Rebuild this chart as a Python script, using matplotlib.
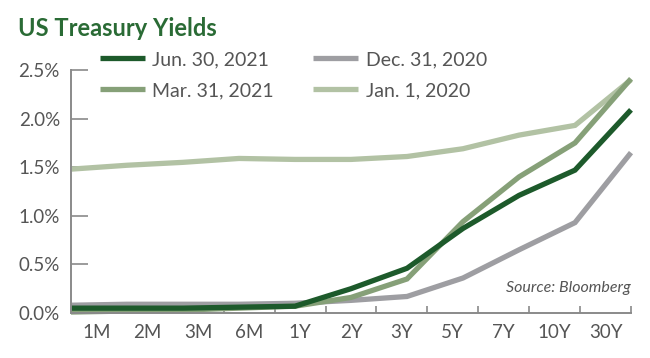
import matplotlib
matplotlib.use("Agg")
import matplotlib.pyplot as plt
import numpy as np
from matplotlib import font_manager

# maturities on the x axis
maturities = ["1M", "2M", "3M", "6M", "1Y", "2Y", "3Y", "5Y", "7Y", "10Y", "30Y"]

# yields in percent
jun_2021 = [0.05, 0.05, 0.05, 0.06, 0.07, 0.25, 0.46, 0.87, 1.21, 1.47, 2.09]
mar_2021 = [0.01, 0.02, 0.03, 0.05, 0.07, 0.16, 0.35, 0.94, 1.40, 1.75, 2.41]
dec_2020 = [0.08, 0.09, 0.09, 0.09, 0.10, 0.13, 0.17, 0.36, 0.65, 0.93, 1.65]
jan_2020 = [1.48, 1.52, 1.55, 1.59, 1.58, 1.58, 1.61, 1.69, 1.83, 1.93, 2.40]

series_labels = ["Jun. 30, 2021", "Mar. 31, 2021", "Dec. 31, 2020", "Jan. 1, 2020"]
series_colors = ["#1d5a2b", "#86a078", "#9e9ea2", "#b2c2a4"]

y_ticks = [0.0, 0.5, 1.0, 1.5, 2.0, 2.5]

installed = {f.name for f in font_manager.fontManager.ttflist}
base_font = "Lato" if "Lato" in installed else "DejaVu Sans"
title_font = "Liberation Sans Narrow" if "Liberation Sans Narrow" in installed else base_font
plt.rcParams["font.family"] = [base_font, "DejaVu Sans"]

text_gray = "#555555"
axis_gray = "#8a8a8a"

fig = plt.figure(figsize=(6.5, 3.58), dpi=100)
ax = fig.add_axes([71 / 650, 1 - 313 / 358, 560 / 650, 243 / 358])

x = np.arange(len(maturities))
all_series = [jun_2021, mar_2021, dec_2020, jan_2020]
handles = []
# draw back to front so the latest curve sits on top
for vals, lab, col in reversed(list(zip(all_series, series_labels, series_colors))):
    (ln,) = ax.plot(x, vals, color=col, lw=3.8, label=lab,
                    solid_joinstyle="miter", solid_capstyle="butt", clip_on=False)
    handles.insert(0, ln)

n = len(maturities)
ax.set_xlim(0, n - 1)
ax.set_ylim(0, 2.5)

# category slots: tick marks on the boundaries, labels centred in each slot
slot = (n - 1) / n
ax.set_xticks([slot * k for k in range(1, n + 1)])
ax.set_xticklabels([])
ax.set_xticks([slot * (k + 0.5) for k in range(n)], minor=True)
ax.set_xticklabels(maturities, minor=True)
ax.tick_params(axis="x", which="major", direction="in", length=5, width=1.2, color=axis_gray)
ax.tick_params(axis="x", which="minor", length=0, pad=8, labelsize=13.5, labelcolor=text_gray)

ax.set_yticks(y_ticks)
ax.set_yticklabels([f"{v:.1f}%" for v in y_ticks])
ax.tick_params(axis="y", direction="in", length=12, width=1.2, color=axis_gray,
               pad=8, labelsize=13.5, labelcolor=text_gray)

for side in ["top", "right"]:
    ax.spines[side].set_visible(False)
for side in ["left", "bottom"]:
    ax.spines[side].set_color(axis_gray)
    ax.spines[side].set_linewidth(1.4)

fig.text(18 / 650, 1 - 29 / 358, "US Treasury Yields", family=[title_font, "DejaVu Sans"],
         fontsize=17, fontweight="bold", color="#2a6b35", va="center", ha="left")

fig.legend(handles=handles, labels=series_labels, ncol=2, frameon=False,
           loc="upper left", bbox_to_anchor=(100 / 650, 1 - 51 / 358),
           borderpad=0, borderaxespad=0,
           fontsize=14, handlelength=2.3, handletextpad=0.4,
           columnspacing=2.0, labelspacing=0.72, labelcolor=text_gray)

ax.text(1.0, 0.075, "Source: Bloomberg", transform=ax.transAxes, ha="right",
        va="bottom", fontsize=11.5, style="italic", color=text_gray)

fig.savefig("out.png", dpi=100)
